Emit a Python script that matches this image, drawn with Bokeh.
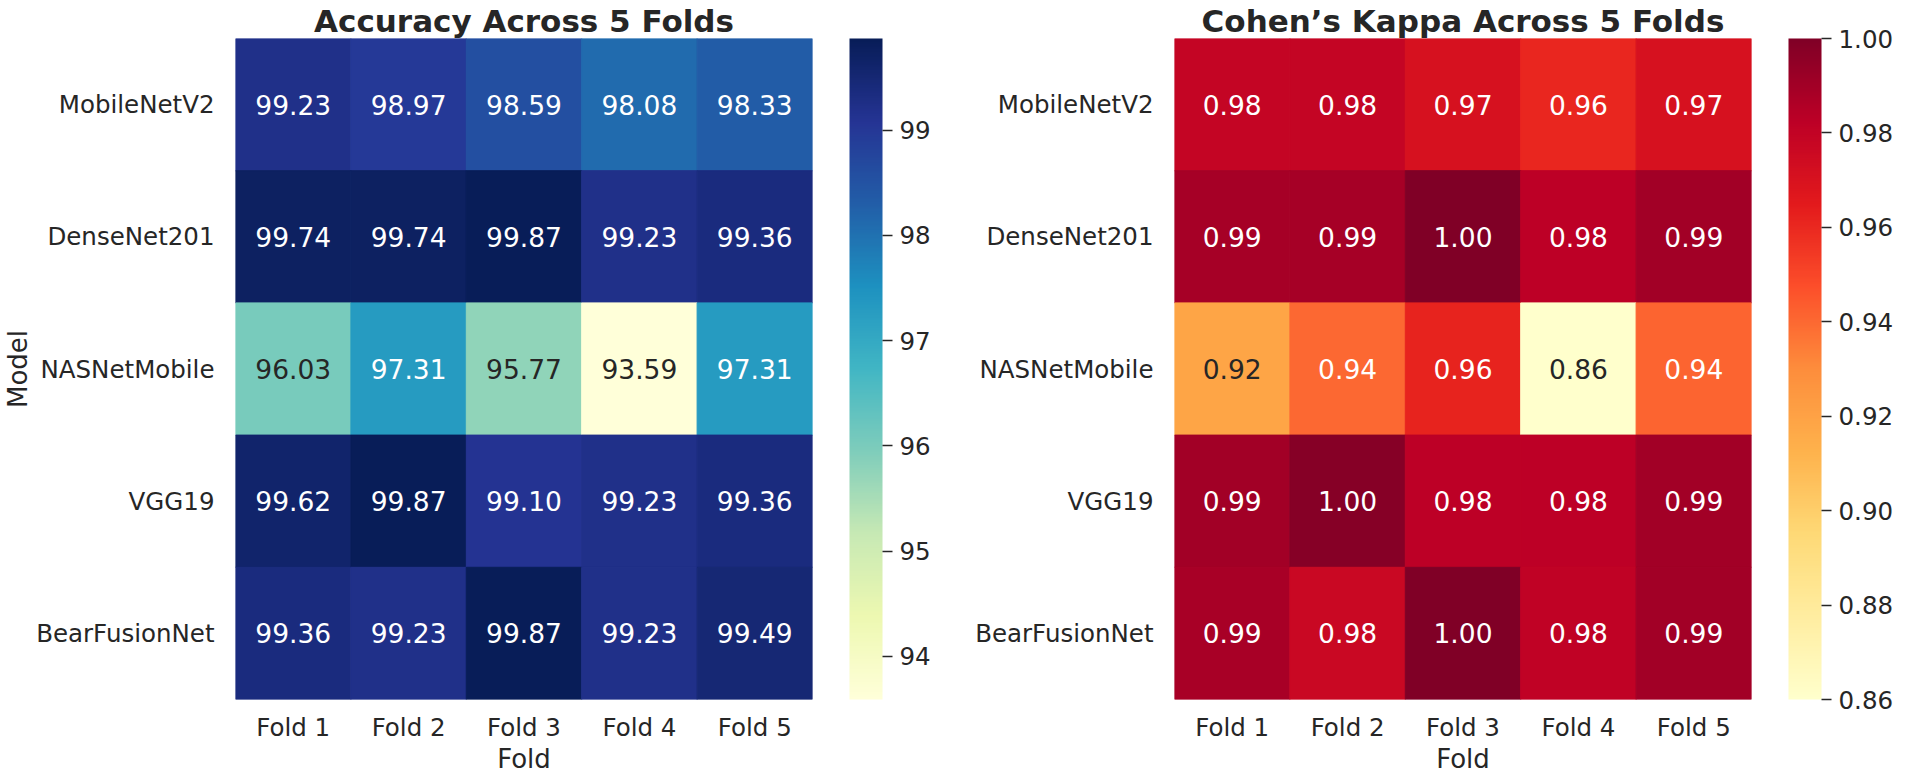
import numpy as np
from bokeh.plotting import figure
from bokeh.models import ColumnDataSource, LinearColorMapper, ColorBar, FixedTicker, PrintfTickFormatter
from bokeh.layouts import row
from bokeh.embed import file_html
from bokeh.resources import INLINE
from bokeh.core.properties import value

# ---------------- data ----------------
models = ["MobileNetV2", "DenseNet201", "NASNetMobile", "VGG19", "BearFusionNet"]
folds = ["Fold 1", "Fold 2", "Fold 3", "Fold 4", "Fold 5"]

acc_mobilenetv2 = [99.23, 98.97, 98.59, 98.08, 98.33]
acc_densenet201 = [99.74, 99.74, 99.87, 99.23, 99.36]
acc_nasnetmobile = [96.03, 97.31, 95.77, 93.59, 97.31]
acc_vgg19 = [99.62, 99.87, 99.10, 99.23, 99.36]
acc_bearfusionnet = [99.36, 99.23, 99.87, 99.23, 99.49]

kappa_mobilenetv2 = [0.979, 0.979, 0.971, 0.961, 0.971]
kappa_densenet201 = [0.989, 0.989, 1.000, 0.982, 0.990]
kappa_nasnetmobile = [0.919, 0.940, 0.962, 0.860, 0.941]
kappa_vgg19 = [0.990, 0.998, 0.982, 0.982, 0.990]
kappa_bearfusionnet = [0.988, 0.977, 1.000, 0.981, 0.990]

acc_ticks = [94, 95, 96, 97, 98, 99]
kappa_ticks = [0.86, 0.88, 0.90, 0.92, 0.94, 0.96, 0.98, 1.00]

accuracy_rows = [acc_mobilenetv2, acc_densenet201, acc_nasnetmobile, acc_vgg19, acc_bearfusionnet]
kappa_rows = [kappa_mobilenetv2, kappa_densenet201, kappa_nasnetmobile, kappa_vgg19, kappa_bearfusionnet]

YLGNBU = ["#ffffd9", "#edf8b1", "#c7e9b4", "#7fcdbb", "#41b6c4", "#1d91c0", "#225ea8", "#253494", "#081d58"]
YLORRD = ["#ffffcc", "#ffeda0", "#fed976", "#feb24c", "#fd8d3c", "#fc4e2a", "#e31a1c", "#bd0026", "#800026"]

FONT = "DejaVu Sans"
TXT = "#262626"
FRAME_W, FRAME_H = 577, 661


def make_palette(hexes, n=256):
    cols = np.array([[int(h[i:i + 2], 16) for i in (1, 3, 5)] for h in hexes], float) / 255.0
    pos = np.linspace(0, 1, len(hexes))
    xs = np.linspace(0, 1, n)
    rgb = np.stack([np.interp(xs, pos, cols[:, k]) for k in range(3)], axis=1)
    return rgb, ["#%02x%02x%02x" % tuple(int(round(c * 255)) for c in r) for r in rgb]


def lum(c):
    c = np.where(c <= 0.03928, c / 12.92, ((c + 0.055) / 1.055) ** 2.4)
    return 0.2126 * c[0] + 0.7152 * c[1] + 0.0722 * c[2]


def heat(title, rows, hexes, ticks, fmt, lab_fmt, ylabel, left, right):
    rgb, pal = make_palette(hexes)
    vals = np.array(rows, float)
    lo, hi = vals.min(), vals.max()
    xs, ys, vs, labs, tcs = [], [], [], [], []
    for i, m in enumerate(models):
        for j, f in enumerate(folds):
            v = vals[i, j]
            idx = int(np.clip(int((v - lo) / (hi - lo) * 256), 0, 255))
            xs.append(f); ys.append(m); vs.append(v)
            labs.append(lab_fmt % v)
            tcs.append(TXT if lum(rgb[idx]) > 0.408 else "#ffffff")
    src = ColumnDataSource(dict(x=xs, y=ys, v=vs, lab=labs, tc=tcs))
    mapper = LinearColorMapper(palette=pal, low=lo, high=hi)

    p = figure(x_range=folds, y_range=list(reversed(models)),
               frame_width=FRAME_W, frame_height=FRAME_H,
               output_backend="svg", toolbar_location=None, title=title,
               min_border_left=left, min_border_right=right, min_border_top=30, min_border_bottom=78)
    p.rect(x="x", y="y", width=1, height=1, source=src,
           fill_color={"field": "v", "transform": mapper},
           line_color={"field": "v", "transform": mapper}, line_width=1)
    p.text(x="x", y="y", text="lab", text_color="tc", source=src,
           text_font=value(FONT), text_font_size=value("26.5px"),
           text_align="center", text_baseline="middle")

    p.title.text_font = FONT
    p.title.text_font_size = "31px"
    p.title.text_font_style = "bold"
    p.title.text_color = TXT
    p.title.align = "center"
    p.title.standoff = 0

    p.grid.visible = False
    p.outline_line_color = None
    for ax in (p.xaxis, p.yaxis):
        ax.axis_line_color = None
        ax.major_tick_line_color = None
        ax.minor_tick_line_color = None
        ax.major_tick_out = 0
        ax.major_tick_in = 0
        ax.major_label_text_font = FONT
        ax.major_label_text_font_size = "24.5px"
        ax.major_label_text_color = TXT
        ax.axis_label_text_font = FONT
        ax.axis_label_text_font_size = "26px"
        ax.axis_label_text_font_style = "normal"
        ax.axis_label_text_color = TXT
    p.xaxis.major_label_standoff = 13
    p.xaxis.axis_label = "Fold"
    p.xaxis.axis_label_standoff = -1
    p.yaxis.major_label_standoff = 21
    if ylabel:
        p.yaxis.axis_label = ylabel
        p.yaxis.axis_label_standoff = 0

    cb = ColorBar(color_mapper=mapper, ticker=FixedTicker(ticks=ticks),
                  formatter=PrintfTickFormatter(format=fmt),
                  width=33, height=FRAME_H, padding=0, location=(37, 0),
                  major_label_text_font=FONT, major_label_text_font_size="24.5px",
                  major_label_text_color=TXT,
                  major_tick_line_color=TXT, major_tick_line_width=1.3,
                  major_tick_in=0, major_tick_out=10, minor_tick_line_color=None,
                  label_standoff=7, bar_line_color=None, border_line_color=None,
                  background_fill_color=None)
    p.add_layout(cb, "right")
    return p


p1 = heat("Accuracy Across 5 Folds", accuracy_rows, YLGNBU, acc_ticks, "%d", "%.2f",
          "Model", 234, 149)
p2 = heat("Cohen\u2019s Kappa Across 5 Folds", kappa_rows, YLORRD, kappa_ticks, "%.2f", "%.2f",
          None, 213, 140)

layout = row(p1, p2)
open("out.html", "w").write(file_html(layout, INLINE))
